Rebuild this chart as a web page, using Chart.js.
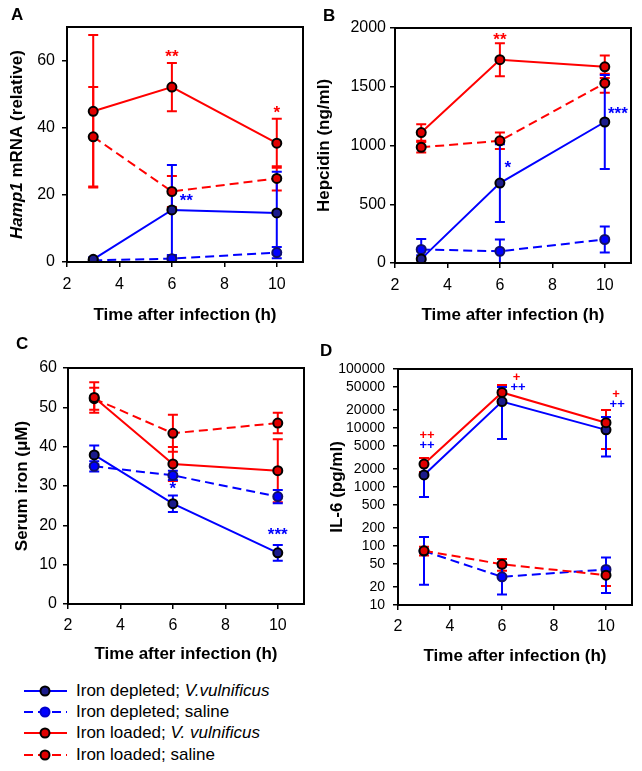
<!DOCTYPE html>
<html lang="en">
<head>
  <meta charset="UTF-8">
  <title>Iron status and infection time course</title>
  <script src="https://cdn.jsdelivr.net/npm/chart.js"></script>
  <style>
    * {
      margin: 0;
      padding: 0;
      box-sizing: border-box;
    }

    body {
      width: 642px;
      height: 771px;
      background: #fff;
      position: relative;
      overflow: hidden;
      font-family: 'Liberation Sans', Arial, sans-serif;
    }

    .panel {
      position: absolute;
    }

    .letter {
      position: absolute;
      font-size: 17px;
      font-weight: bold;
      color: #000;
    }

    .legend {
      position: absolute;
      left: 22px;
      top: 680px;
    }

    .legend .row {
      display: flex;
      align-items: center;
      height: 21.3px;
      font-size: 17px;
      color: #000;
    }

    .legend svg {
      margin-right: 8px;
    }
  </style>
</head>
<body>
  <div class="panel" style="left:0;top:0;"><canvas id="chartA" width="321" height="330"></canvas></div>
  <div class="panel" style="left:310px;top:0;"><canvas id="chartB" width="332" height="330"></canvas></div>
  <div class="panel" style="left:0;top:330px;"><canvas id="chartC" width="321" height="340"></canvas></div>
  <div class="panel" style="left:310px;top:330px;"><canvas id="chartD" width="332" height="340"></canvas></div>

  <div class="letter" style="left:11px;top:5px;">A</div>
  <div class="letter" style="left:323px;top:6px;">B</div>
  <div class="letter" style="left:16px;top:334px;">C</div>
  <div class="letter" style="left:320px;top:341px;">D</div>

  <div class="legend">
    <div class="row">
      <svg width="46" height="14"><line x1="2" y1="7" x2="45" y2="7" stroke="#0000ff" stroke-width="2"/><circle cx="23" cy="7" r="4.5" fill="#1c1c8c" stroke="#000" stroke-width="2"/></svg>
      <span>Iron depleted; <i>V.vulnificus</i></span>
    </div>
    <div class="row">
      <svg width="46" height="14"><line x1="2" y1="7" x2="45" y2="7" stroke="#0000ff" stroke-width="2" stroke-dasharray="9 5"/><circle cx="23" cy="7" r="4.5" fill="#0000ff" stroke="#0000cc" stroke-width="2"/></svg>
      <span>Iron depleted; saline</span>
    </div>
    <div class="row">
      <svg width="46" height="14"><line x1="2" y1="7" x2="45" y2="7" stroke="#ff0000" stroke-width="2"/><circle cx="23" cy="7" r="4.5" fill="#e00000" stroke="#000" stroke-width="2"/></svg>
      <span>Iron loaded; <i>V. vulnificus</i></span>
    </div>
    <div class="row">
      <svg width="46" height="14"><line x1="2" y1="7" x2="45" y2="7" stroke="#ff0000" stroke-width="2" stroke-dasharray="9 5"/><circle cx="23" cy="7" r="4.5" fill="#e00000" stroke="#000" stroke-width="2"/></svg>
      <span>Iron loaded; saline</span>
    </div>
  </div>

  <script>
    // sampling times (h) and axis ticks
    const times = [3, 6, 10];
    const xTicks = [2, 4, 6, 8, 10];

    // A - Hamp1 mRNA (relative)
    const hampTicks = [0, 20, 40, 60];
    const hampDepVv = [0.8, 15.5, 14.6];
    const hampDepVvSd = [0.6, 13.4, 12.3];
    const hampDepSal = [0.5, 1.0, 2.8];
    const hampDepSalSd = [0.4, 0.9, 1.7];
    const hampLoadVv = [44.9, 52.1, 35.4];
    const hampLoadVvSd = [22.7, 7.2, 7.3];
    const hampLoadSal = [37.3, 21.0, 24.9];
    const hampLoadSalSd = [14.8, 4.6, 3.6];
    const hampMarks = [[6, 62.3, '**', 'red'], [10, 45.5, '*', 'red'], [6.55, 19.3, '**', 'blue']];

    // B - Hepcidin (ng/ml)
    const hepcTicks = [0, 500, 1000, 1500, 2000];
    const hepcDepVv = [35, 680, 1200];
    const hepcDepVvSd = [30, 330, 400];
    const hepcDepSal = [115, 100, 200];
    const hepcDepSalSd = [90, 100, 110];
    const hepcLoadVv = [1110, 1730, 1670];
    const hepcLoadVvSd = [70, 140, 95];
    const hepcLoadSal = [985, 1040, 1530];
    const hepcLoadSalSd = [45, 70, 80];
    const hepcMarks = [[6, 1930, '**', 'red'], [6.3, 840, '*', 'blue'], [10.5, 1300, '***', 'blue']];

    // C - Serum iron (uM)
    const ironTicks = [0, 10, 20, 30, 40, 50, 60];
    const ironDepVv = [37.9, 25.5, 13.0];
    const ironDepVvSd = [2.4, 2.1, 2.0];
    const ironDepSal = [35.0, 32.7, 27.3];
    const ironDepSalSd = [1.3, 1.2, 1.7];
    const ironLoadVv = [52.5, 35.6, 33.9];
    const ironLoadVvSd = [3.9, 4.3, 8.0];
    const ironLoadSal = [52.2, 43.4, 46.0];
    const ironLoadSalSd = [2.8, 4.7, 2.6];
    const ironMarks = [[6, 30.3, '*', 'blue'], [10, 18.5, '***', 'blue']];

    // D - IL-6 (pg/ml), log axis
    const il6Ticks = [10, 20, 50, 100, 200, 500, 1000, 2000, 5000, 10000, 20000, 50000, 100000];
    const il6DepVv = [1600, 28000, 9300];
    const il6DepVvSd = [920, 21500, 6000];
    const il6DepSal = [82, 30, 40];
    const il6DepSalSd = [60, 15, 24];
    const il6LoadVv = [2450, 40000, 12300];
    const il6LoadVvSd = [650, 13500, 7900];
    const il6LoadSal = [83, 49, 32];
    const il6LoadSalSd = [14, 11, 11];
    const il6Marks = [[3.12, 7600, '++', 'red'], [3.12, 5000, '++', 'blue'], [6.56, 72000, '+', 'red'],
                      [6.62, 49000, '++', 'blue'], [10.39, 37000, '+', 'red'], [10.43, 25000, '++', 'blue']];

    const BLUE = '#0000ff';
    const RED = '#ff0000';
    const FONT = "'Liberation Sans', Arial, sans-serif";

    Chart.defaults.font.family = FONT;
    Chart.defaults.color = '#000';

    // vertical error bars with caps, drawn under the points
    const errorBars = {
      id: 'errorBars',
      beforeDatasetsDraw(chart) {
        const ctx = chart.ctx;
        const ys = chart.scales.y;
        chart.data.datasets.forEach((ds, i) => {
          const meta = chart.getDatasetMeta(i);
          ctx.save();
          ctx.strokeStyle = ds.borderColor;
          ctx.lineWidth = 2;
          meta.data.forEach((pt, j) => {
            const v = ds.data[j].y;
            const e = ds.sd[j];
            const lo = Math.max(v - e, ys.min);
            const yHi = ys.getPixelForValue(v + e);
            const yLo = ys.getPixelForValue(lo);
            ctx.beginPath();
            ctx.moveTo(pt.x, yHi);
            ctx.lineTo(pt.x, yLo);
            ctx.moveTo(pt.x - 5, yHi);
            ctx.lineTo(pt.x + 5, yHi);
            if (v - e > ys.min) {
              ctx.moveTo(pt.x - 5, yLo);
              ctx.lineTo(pt.x + 5, yLo);
            }
            ctx.stroke();
          });
          ctx.restore();
        });
      }
    };

    // closed box round the plot area
    const frame = {
      id: 'frame',
      afterDatasetsDraw(chart) {
        const { ctx, chartArea: a } = chart;
        ctx.save();
        ctx.strokeStyle = '#000';
        ctx.lineWidth = 2;
        ctx.strokeRect(a.left, a.top, a.right - a.left, a.bottom - a.top);
        ctx.restore();
      }
    };

    // rotated y title made of bold / bold-italic parts
    const yTitle = {
      id: 'yTitle',
      afterDraw(chart, args, opts) {
        const { ctx, chartArea: a } = chart;
        ctx.save();
        ctx.translate(opts.x, (a.top + a.bottom) / 2);
        ctx.rotate(-Math.PI / 2);
        ctx.fillStyle = '#000';
        ctx.textBaseline = 'middle';
        let total = 0;
        opts.parts.forEach(([t, it]) => {
          ctx.font = (it ? 'italic ' : '') + 'bold 17px ' + FONT;
          total += ctx.measureText(t).width;
        });
        let x = -total / 2;
        opts.parts.forEach(([t, it]) => {
          ctx.font = (it ? 'italic ' : '') + 'bold 17px ' + FONT;
          ctx.fillText(t, x, 0);
          x += ctx.measureText(t).width;
        });
        ctx.restore();
      }
    };

    // significance marks (* and +) at data coordinates
    const marks = {
      id: 'marks',
      afterDatasetsDraw(chart, args, opts) {
        const ctx = chart.ctx;
        const xs = chart.scales.x, ys = chart.scales.y;
        ctx.save();
        ctx.textAlign = 'center';
        ctx.textBaseline = 'middle';
        opts.items.forEach(([x, y, t, c]) => {
          const star = t.indexOf('*') >= 0;
          ctx.font = star ? 'bold 17px ' + FONT : 'bold 13px ' + FONT;
          ctx.fillStyle = c === 'red' ? RED : BLUE;
          ctx.fillText(t, xs.getPixelForValue(x), ys.getPixelForValue(y) + (star ? 4 : 0));
        });
        ctx.restore();
      }
    };

    function series(vals, sd, color, dashed, fill, edge) {
      return {
        data: times.map((t, k) => ({ x: t, y: vals[k] })),
        sd: sd,
        borderColor: color,
        borderWidth: 2,
        borderDash: dashed ? [9, 5] : [],
        pointRadius: 4.5,
        pointBorderWidth: 2,
        pointBackgroundColor: fill,
        pointBorderColor: edge,
        tension: 0
      };
    }

    function makePanel(id, p) {
      const yScale = {
        type: p.log ? 'logarithmic' : 'linear',
        min: p.yTicks[0],
        max: p.yMax,
        afterBuildTicks: s => { s.ticks = p.yTicks.map(v => ({ value: v })); },
        afterFit: s => { s.width = p.yWidth; },
        grid: { drawOnChartArea: false, drawTicks: true, tickLength: 5, color: '#000', lineWidth: 1.5 },
        border: { display: true, color: '#000', width: 2 },
        ticks: {
          autoSkip: false,
          padding: p.yPad,
          font: { size: p.yFont },
          callback: v => String(v)
        }
      };
      new Chart(document.getElementById(id), {
        type: 'line',
        data: {
          datasets: [
            series(p.loadVv[0], p.loadVv[1], RED, false, '#e00000', '#000'),
            series(p.loadSal[0], p.loadSal[1], RED, true, '#e00000', '#000'),
            series(p.depVv[0], p.depVv[1], BLUE, false, '#1c1c8c', '#000'),
            series(p.depSal[0], p.depSal[1], BLUE, true, '#0000ff', '#10106a')
          ]
        },
        options: {
          responsive: false,
          animation: false,
          layout: { padding: p.pad },
          scales: {
            x: {
              type: 'linear',
              min: 2,
              max: 11,
              afterBuildTicks: s => { s.ticks = xTicks.map(v => ({ value: v })); },
              afterFit: s => { s.height = p.xHeight; },
              grid: { drawOnChartArea: false, drawTicks: true, tickLength: 5, color: '#000', lineWidth: 1.5 },
              border: { display: true, color: '#000', width: 2 },
              ticks: { padding: p.xPad, font: { size: 16 } },
              title: {
                display: true,
                text: 'Time after infection (h)',
                font: { size: 17, weight: 'bold' },
                padding: { top: 0, bottom: p.titlePad }
              }
            },
            y: yScale
          },
          plugins: {
            legend: { display: false },
            tooltip: { enabled: false },
            yTitle: { x: p.titleX, parts: p.title },
            marks: { items: p.marks }
          }
        },
        plugins: [errorBars, frame, yTitle, marks]
      });
    }

    makePanel('chartA', {
      yTicks: hampTicks, yMax: 70, yWidth: 67, yPad: 7, yFont: 16,
      pad: { top: 27, right: 18, left: 0, bottom: 0 }, xHeight: 68, xPad: 8, titlePad: 4,
      titleX: 17, title: [['Hamp1', true], [' mRNA (relative)', false]], marks: hampMarks,
      depVv: [hampDepVv, hampDepVvSd], depSal: [hampDepSal, hampDepSalSd],
      loadVv: [hampLoadVv, hampLoadVvSd], loadSal: [hampLoadSal, hampLoadSalSd]
    });

    makePanel('chartB', {
      yTicks: hepcTicks, yMax: 2000, yWidth: 85, yPad: 4, yFont: 16,
      pad: { top: 28, right: 11, left: 0, bottom: 0 }, xHeight: 67, xPad: 8, titlePad: 4,
      titleX: 14, title: [['Hepcidin (ng/ml)', false]], marks: hepcMarks,
      depVv: [hepcDepVv, hepcDepVvSd], depSal: [hepcDepSal, hepcDepSalSd],
      loadVv: [hepcLoadVv, hepcLoadVvSd], loadSal: [hepcLoadSal, hepcLoadSalSd]
    });

    makePanel('chartC', {
      yTicks: ironTicks, yMax: 60, yWidth: 68, yPad: 6, yFont: 16,
      pad: { top: 38, right: 17, left: 0, bottom: 0 }, xHeight: 66, xPad: 7, titlePad: 5,
      titleX: 22, title: [['Serum iron (\u03bcM)', false]], marks: ironMarks,
      depVv: [ironDepVv, ironDepVvSd], depSal: [ironDepSal, ironDepSalSd],
      loadVv: [ironLoadVv, ironLoadVvSd], loadSal: [ironLoadSal, ironLoadSalSd]
    });

    makePanel('chartD', {
      log: true, yTicks: il6Ticks, yMax: 100000, yWidth: 88, yPad: 8, yFont: 14,
      pad: { top: 39, right: 10, left: 0, bottom: 0 }, xHeight: 65, xPad: 7, titlePad: 3,
      titleX: 27, title: [['IL-6 (pg/ml)', false]], marks: il6Marks,
      depVv: [il6DepVv, il6DepVvSd], depSal: [il6DepSal, il6DepSalSd],
      loadVv: [il6LoadVv, il6LoadVvSd], loadSal: [il6LoadSal, il6LoadSalSd]
    });
  </script>
</body>
</html>
